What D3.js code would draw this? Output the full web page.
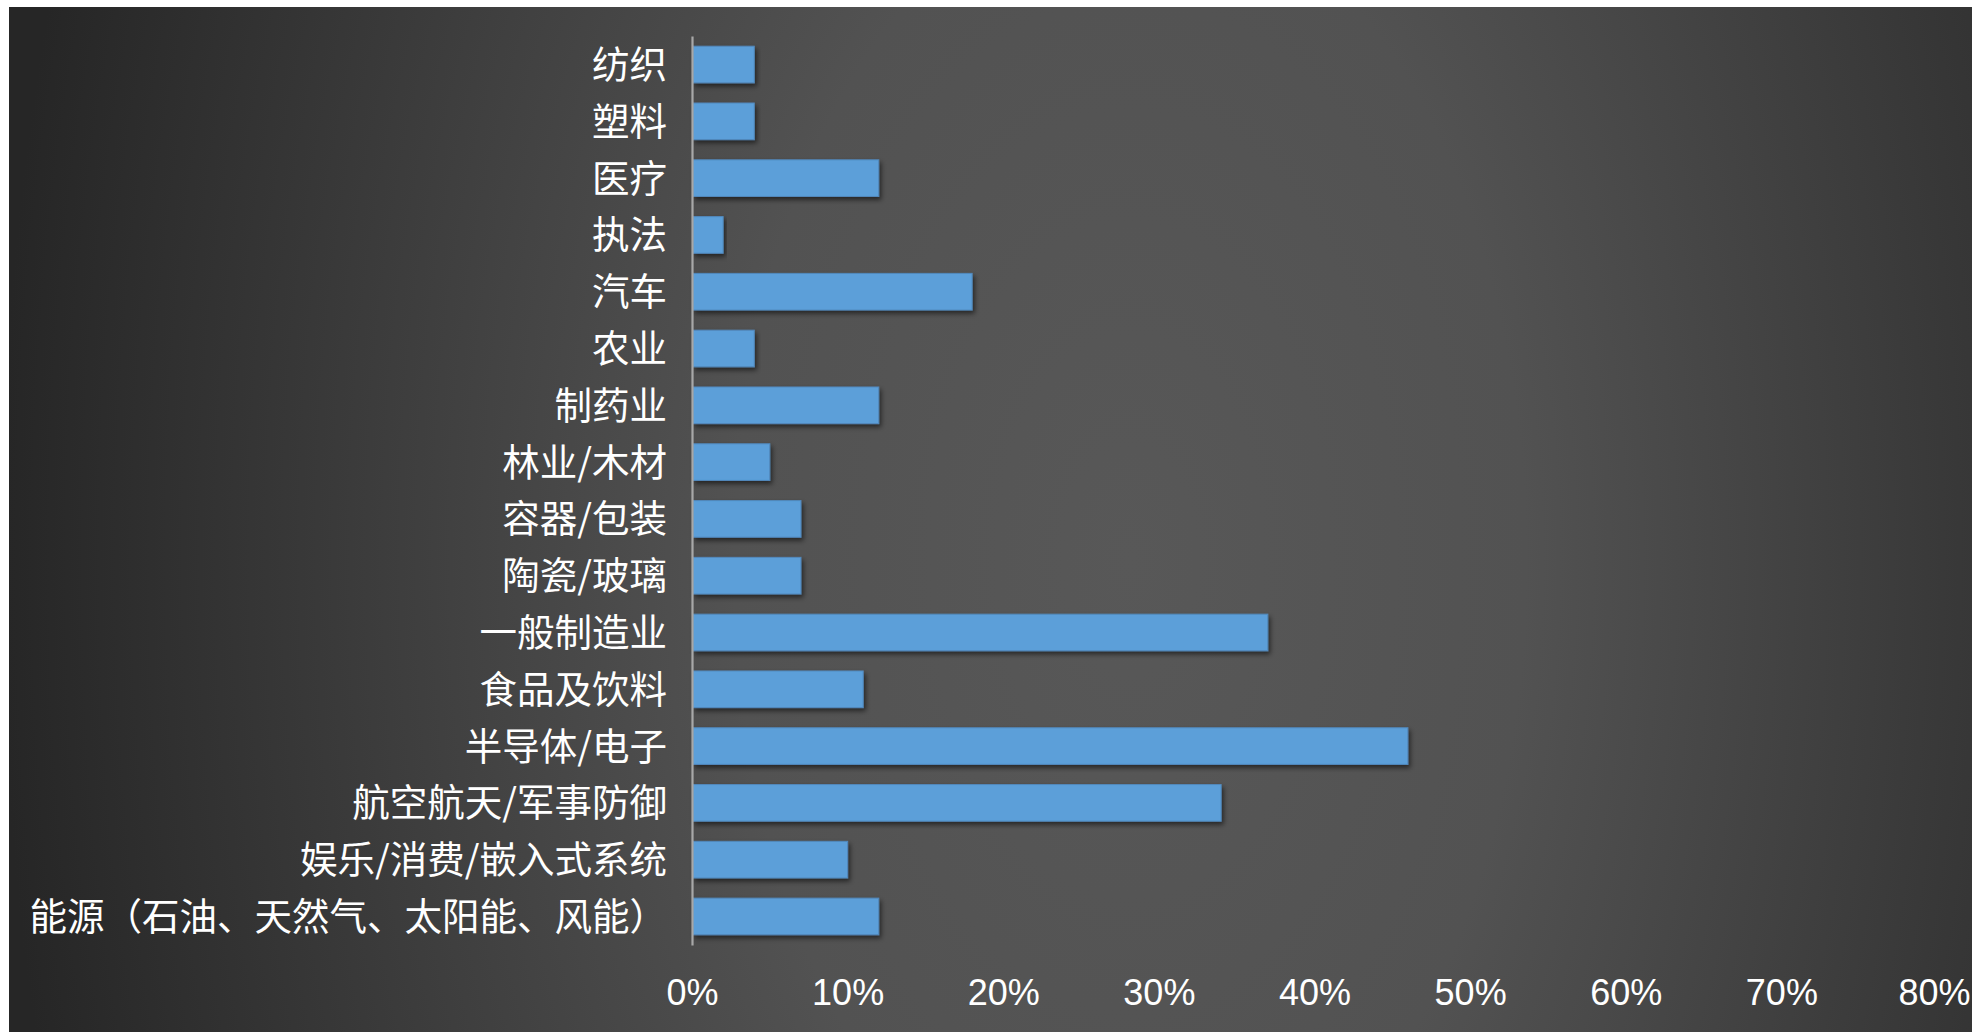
<!DOCTYPE html>
<html>
<head>
<meta charset="utf-8">
<script src="https://cdn.jsdelivr.net/npm/d3@7"></script>
<style>
  html, body { margin: 0; padding: 0; background: #ffffff; overflow: hidden; }
  svg { display: block; }
</style>
</head>
<body>
<svg id="chart" width="1972" height="1032"></svg>
<script>
const categories = [
  "纺织", "塑料", "医疗", "执法", "汽车", "农业", "制药业", "林业/木材",
  "容器/包装", "陶瓷/玻璃", "一般制造业", "食品及饮料", "半导体/电子",
  "航空航天/军事防御", "娱乐/消费/嵌入式系统", "能源（石油、天然气、太阳能、风能）"
];
const values = [0.04, 0.04, 0.12, 0.02, 0.18, 0.04, 0.12, 0.05,
                0.07, 0.07, 0.37, 0.11, 0.46, 0.34, 0.10, 0.12];
const tickValues = [0, 0.1, 0.2, 0.3, 0.4, 0.5, 0.6, 0.7, 0.8];

const svg = d3.select("#chart");
const W = 1972, H = 1032;

const defs = svg.append("defs");
const grad = defs.append("radialGradient")
  .attr("id", "bg")
  .attr("gradientUnits", "userSpaceOnUse")
  .attr("cx", 1130).attr("cy", 560).attr("r", 1130)
  .attr("gradientTransform", "translate(1130,560) scale(1,1.7) translate(-1130,-560)");
grad.append("stop").attr("offset", "0").attr("stop-color", "#585858");
grad.append("stop").attr("offset", "0.35").attr("stop-color", "#525252");
grad.append("stop").attr("offset", "1").attr("stop-color", "#262626");

const shadow = defs.append("filter").attr("id", "shadow")
  .attr("x", "-5%").attr("y", "-20%").attr("width", "115%").attr("height", "160%");
shadow.append("feDropShadow")
  .attr("dx", 2).attr("dy", 3).attr("stdDeviation", 2.5)
  .attr("flood-color", "#000").attr("flood-opacity", 0.55);

svg.append("rect")
  .attr("x", 9).attr("y", 7).attr("width", W - 9).attr("height", H - 7)
  .attr("fill", "url(#bg)");

const x = d3.scaleLinear().domain([0, 0.8]).range([692, 1937]);
const y = d3.scaleBand().domain(categories).range([36, 945])
  .paddingInner(0.355).paddingOuter(0.18);

// bars
svg.append("g").selectAll("rect")
  .data(categories)
  .join("rect")
  .attr("x", x(0) + 1)
  .attr("y", d => y(d))
  .attr("width", (d, i) => x(values[i]) - x(0) - 1)
  .attr("height", y.bandwidth())
  .attr("fill", "#5b9fd9")
  .attr("stroke", "#5289bd")
  .attr("stroke-width", 1)
  .attr("filter", "url(#shadow)");

// y axis
const yAxis = svg.append("g")
  .attr("transform", `translate(${x(0)},0)`)
  .call(d3.axisLeft(y).tickSize(0).tickSizeOuter(0).tickPadding(25));
yAxis.select(".domain").attr("stroke", "#a8a8a8").attr("stroke-width", 2.2);
yAxis.selectAll("text")
  .attr("fill", "#ffffff")
  .attr("font-family", "'Noto Sans CJK SC', 'Noto Sans', sans-serif")
  .attr("font-weight", 400)
  .attr("font-size", 37.5)
  .attr("dy", "0.36em");

// x axis
const xAxis = svg.append("g")
  .attr("transform", `translate(0,${y.range()[1]})`)
  .call(d3.axisBottom(x).tickValues(tickValues).tickFormat(d3.format(".0%"))
    .tickSize(0).tickPadding(60));
xAxis.select(".domain").remove();
xAxis.selectAll("text")
  .attr("fill", "#ffffff")
  .attr("font-family", "'Liberation Sans', Arial, sans-serif")
  .attr("font-size", 36)
  .attr("dy", "0")
  .attr("dx", d => d === 0.8 ? -3 : 0);
</script>
</body>
</html>
